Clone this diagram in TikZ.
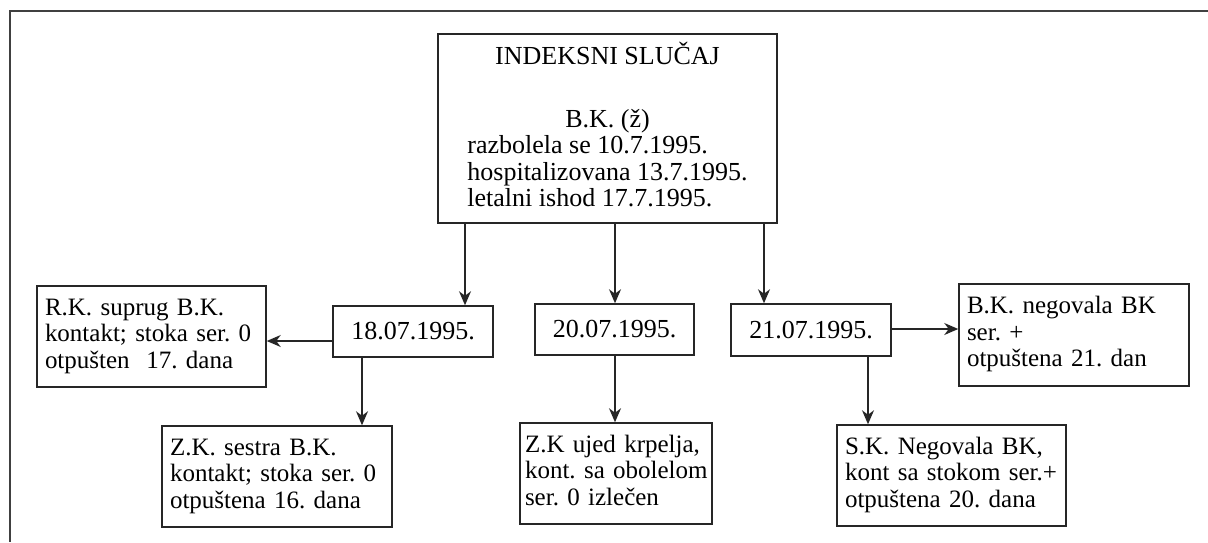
\documentclass[tikz,border=0pt]{standalone}
\usepackage{fontspec}
\setmainfont{Liberation Serif}
\usetikzlibrary{arrows.meta}
\frenchspacing
\begin{document}
\begin{tikzpicture}[x=1pt,y=-1pt,
  box/.style={draw=black!85, line width=1.5pt, rectangle, inner sep=0pt,
    font=\fontsize{26}{26.5}\selectfont\frenchspacing},
  tbox/.style={box, inner xsep=8pt, align=left, minimum height=101pt,
    font=\fontsize{25}{26.5}\selectfont\frenchspacing},
  arr/.style={draw=black!85, line width=1.5pt, -{Stealth[length=14pt,width=12pt,inset=4.5pt]}}]
\useasboundingbox (0,0) rectangle (1208,542);
\draw[line width=2pt, black!75] (1208,10.5) -- (10,10.5) -- (10,542);

\node[box, minimum width=339pt, minimum height=189pt] (top) at (607.5,128.5)
  {\begin{tabular}{@{}l@{}}\multicolumn{1}{@{}c@{}}{INDEKSNI SLUČAJ}\\[36pt]
   \multicolumn{1}{@{}c@{}}{B.K. (ž)}\\
   razbolela se 10.7.1995.\\
   hospitalizovana 13.7.1995.\\
   letalni ishod 17.7.1995.\end{tabular}};

\node[box, minimum width=160pt, minimum height=51pt] (d1) at (413,331.5) {18.07.1995.};
\node[box, minimum width=159pt, minimum height=51pt] (d2) at (614.5,329.5) {20.07.1995.};
\node[box, minimum width=160pt, minimum height=52pt] (d3) at (811,330) {21.07.1995.};

\node[tbox, text width=213pt] (rk) at (151.5,336.5)
  {\begin{tabular}{@{}l@{}}R.K. suprug B.K.\\kontakt; stoka ser. 0\\otpušten~ 17. dana\end{tabular}};
\node[tbox, text width=214pt, minimum height=102pt] (bk) at (1074,335)
  {\begin{tabular}{@{}l@{}}B.K. negovala BK\\ser. +\\otpuštena 21. dan\end{tabular}};
\node[tbox, text width=214pt] (zk1) at (277,476.5)
  {\begin{tabular}{@{}l@{}}Z.K. sestra B.K.\\kontakt; stoka ser. 0\\otpuštena 16. dana\end{tabular}};
\node[tbox, inner xsep=5pt, text width=182pt] (zk2) at (616,473.5)
  {\begin{tabular}{@{}l@{}}Z.K ujed krpelja,\\kont. sa obolelom\\ser. 0 izlečen\end{tabular}};
\node[tbox, text width=213pt] (sk) at (951.5,475.5)
  {\begin{tabular}{@{}l@{}}S.K. Negovala BK,\\kont sa stokom ser.+\\otpuštena 20. dana\end{tabular}};

\coordinate (c1) at (465,0);
\coordinate (c2) at (615,0);
\coordinate (c3) at (764,0);
\coordinate (c4) at (362,0);
\coordinate (c5) at (868,0);
\coordinate (c6) at (0,341);
\coordinate (c7) at (0,329);

\draw[arr] (top.south -| c1) -- (d1.north -| c1);
\draw[arr] (top.south -| c2) -- (d2.north -| c2);
\draw[arr] (top.south -| c3) -- (d3.north -| c3);
\draw[arr] (d1.west |- c6) -- (rk.east |- c6);
\draw[arr] (d3.east |- c7) -- (bk.west |- c7);
\draw[arr] (d1.south -| c4) -- (zk1.north -| c4);
\draw[arr] (d2.south -| c2) -- (zk2.north -| c2);
\draw[arr] (d3.south -| c5) -- (sk.north -| c5);
\end{tikzpicture}
\end{document}
